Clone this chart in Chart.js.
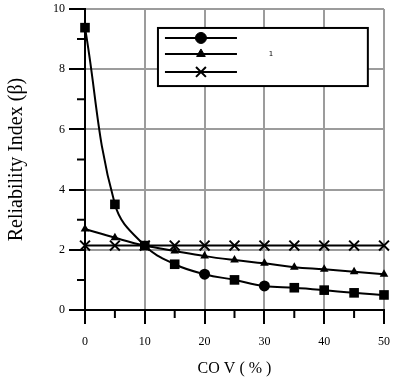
<!DOCTYPE html>
<html>
<head>
<meta charset="utf-8">
<script src="https://cdn.jsdelivr.net/npm/chart.js@4/dist/chart.umd.min.js"></script>
<style>
html,body{margin:0;padding:0;background:#fff;}
canvas{display:block;}
</style>
</head>
<body>
<canvas id="c" width="393" height="378"></canvas>
<script>
// ---- data ----
const cov = [0, 5, 10, 15, 20, 25, 30, 35, 40, 45, 50];
const seriesSquare = [9.38, 3.51, 2.14, 1.52, 1.19, 1.0, 0.80, 0.74, 0.66, 0.57, 0.50];
const seriesTriangle = [2.69, 2.40, 2.14, 1.96, 1.79, 1.66, 1.55, 1.42, 1.35, 1.27, 1.19];
const seriesCross = [2.14, 2.14, 2.14, 2.14, 2.14, 2.14, 2.14, 2.14, 2.14, 2.14, 2.14];
const xTickValues = [0, 5, 10, 15, 20, 25, 30, 35, 40, 45, 50];
const yTickValues = [0, 1, 2, 3, 4, 5, 6, 7, 8, 9, 10];
const roundMarkerAt = [20, 30];
const legendLabel = '1';
const xTitle = 'CO V ( % )';
const yTitle = 'Reliability Index (\u03B2)';

Chart.defaults.font.family = "'Liberation Serif', 'DejaVu Serif', serif";
Chart.defaults.color = '#000';

const GRID = '#9c9c9c';
const toXY = arr => arr.map((v, i) => ({x: cov[i], y: v}));
const isRound = c => c.raw && roundMarkerAt.includes(c.raw.x);

const minorTicks = {
  id: 'minorTicks',
  afterDraw(chart) {
    const ctx = chart.ctx;
    const xs = chart.scales.x, ys = chart.scales.y;
    ctx.save();
    ctx.strokeStyle = '#000';
    ctx.lineWidth = 2;
    ctx.beginPath();
    xTickValues.filter(v => v % 10 !== 0).forEach(v => {
      const px = xs.getPixelForValue(v);
      ctx.moveTo(px, xs.top);
      ctx.lineTo(px, xs.top + 8);
    });
    yTickValues.filter(v => v % 2 !== 0).forEach(v => {
      const py = ys.getPixelForValue(v);
      ctx.moveTo(ys.right, py);
      ctx.lineTo(ys.right - 8, py);
    });
    ctx.stroke();
    ctx.restore();
  }
};

const boxLegend = {
  id: 'boxLegend',
  afterDraw(chart) {
    const ctx = chart.ctx;
    const xs = chart.scales.x, ys = chart.scales.y;
    const l = xs.getPixelForValue(12.2), r = xs.getPixelForValue(47.3);
    const t = ys.getPixelForValue(9.37), b = ys.getPixelForValue(7.44);
    ctx.save();
    ctx.fillStyle = '#fff';
    ctx.fillRect(l, t, r - l, b - t);
    ctx.strokeStyle = '#000';
    ctx.lineWidth = 2;
    ctx.strokeRect(l, t, r - l, b - t);
    const x0 = l + 7, x1 = l + 79, xm = (x0 + x1) / 2;
    const rows = [t + 10, t + 26, t + 44];
    const styles = [
      {pointStyle: 'circle', radius: 5.5, borderWidth: 1},
      {pointStyle: 'triangle', radius: 5, borderWidth: 1},
      {pointStyle: 'crossRot', radius: 7, borderWidth: 2}
    ];
    rows.forEach((y, i) => {
      ctx.strokeStyle = '#000';
      ctx.lineWidth = 2;
      ctx.beginPath();
      ctx.moveTo(x0, y);
      ctx.lineTo(x1, y);
      ctx.stroke();
      ctx.fillStyle = '#000';
      ctx.lineWidth = styles[i].borderWidth;
      Chart.helpers.drawPoint(ctx, styles[i], xm, y);
    });
    ctx.fillStyle = '#000';
    ctx.font = "7px 'DejaVu Sans', sans-serif";
    ctx.textAlign = 'center';
    ctx.textBaseline = 'middle';
    ctx.fillText(legendLabel, l + 113, rows[1]);
    ctx.restore();
  }
};

new Chart(document.getElementById('c'), {
  type: 'line',
  data: {
    datasets: [
      {
        data: toXY(seriesSquare),
        borderColor: '#000', backgroundColor: '#000', borderWidth: 2,
        pointStyle: c => isRound(c) ? 'circle' : 'rect',
        pointRadius: c => isRound(c) ? 5.5 : 6.8,
        pointBorderWidth: 0,
        tension: 0.4, clip: false
      },
      {
        data: toXY(seriesTriangle),
        borderColor: '#000', backgroundColor: '#000', borderWidth: 2,
        pointStyle: 'triangle', pointRadius: 5, pointBorderWidth: 0,
        tension: 0.4, clip: false
      },
      {
        data: toXY(seriesCross),
        borderColor: '#000', backgroundColor: '#000', borderWidth: 2,
        pointStyle: 'crossRot', pointRadius: 7, pointBorderWidth: 2,
        clip: false
      }
    ]
  },
  options: {
    responsive: false,
    devicePixelRatio: 1,
    animation: false,
    layout: {padding: {left: 0, right: 8, top: 9, bottom: 0}},
    plugins: {legend: {display: false}, tooltip: {enabled: false}},
    scales: {
      x: {
        type: 'linear', min: 0, max: 50,
        afterFit(s) { s.height = 68; s.paddingLeft = 0; s.paddingRight = 0; },
        afterBuildTicks(s) { s.ticks = xTickValues.map(v => ({value: v})); },
        border: {color: '#000', width: 2},
        grid: {
          color: c => (c.tick && c.tick.value % 10 === 0) ? GRID : 'rgba(0,0,0,0)',
          lineWidth: 2,
          tickLength: 14,
          tickWidth: 2,
          tickColor: c => (c.tick && c.tick.value % 10 === 0) ? '#000' : 'rgba(0,0,0,0)'
        },
        ticks: {
          padding: 11, maxRotation: 0, autoSkip: false,
          font: {size: 12},
          callback: v => (v % 10 === 0 ? String(v) : '')
        },
        title: {display: true, text: xTitle, font: {size: 16}, padding: {top: 0, bottom: 0}}
      },
      y: {
        type: 'linear', min: 0, max: 10,
        afterFit(s) { s.width = 85; s.paddingTop = 0; s.paddingBottom = 0; },
        afterBuildTicks(s) { s.ticks = yTickValues.map(v => ({value: v})); },
        border: {color: '#000', width: 2},
        grid: {
          color: c => (c.tick && c.tick.value % 2 === 0) ? GRID : 'rgba(0,0,0,0)',
          lineWidth: 2,
          tickLength: 16,
          tickWidth: 2,
          tickColor: c => (c.tick && c.tick.value % 2 === 0) ? '#000' : 'rgba(0,0,0,0)'
        },
        ticks: {
          padding: 4, autoSkip: false,
          font: {size: 12},
          callback: v => (v % 2 === 0 ? String(v) : '')
        },
        title: {display: true, text: yTitle, font: {size: 20}, padding: {top: 5, bottom: 0}}
      }
    }
  },
  plugins: [minorTicks, boxLegend]
});
</script>
</body>
</html>
